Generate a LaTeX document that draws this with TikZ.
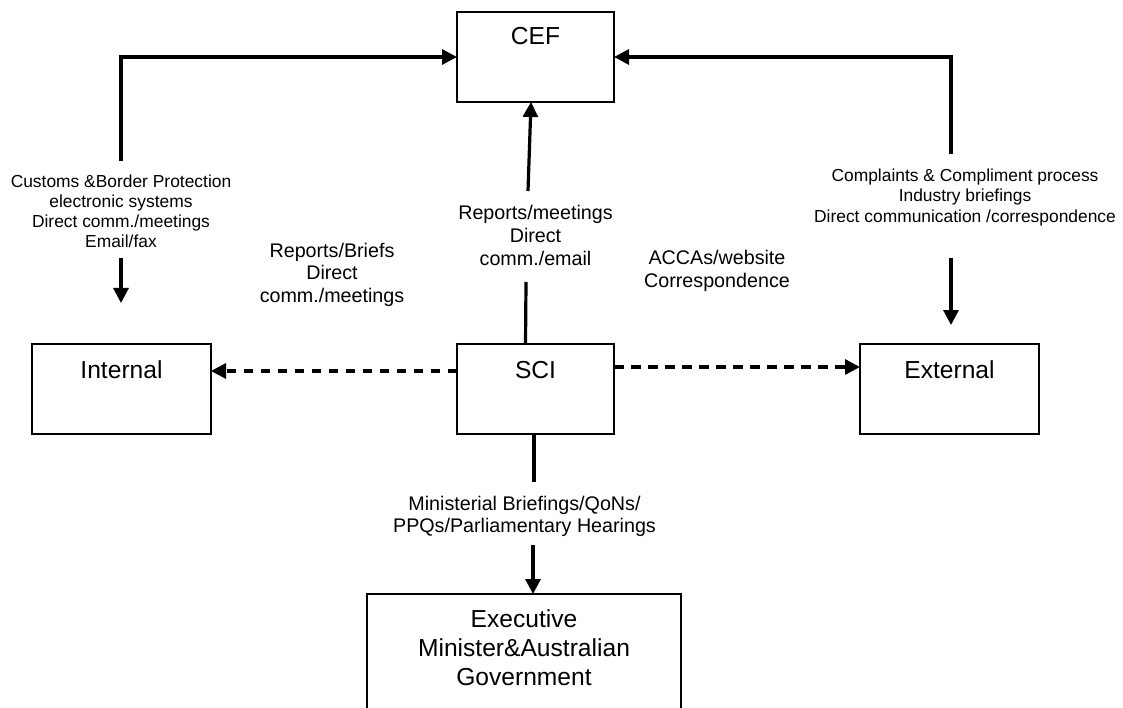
\documentclass[tikz,border=0pt]{standalone}
\usepackage{fontspec}
\setmainfont{Liberation Sans}
\usetikzlibrary{arrows.meta}
\begin{document}
\begin{tikzpicture}[x=1pt,y=-1pt,
  box/.style={draw, line width=1.6pt, inner sep=0pt, outer sep=0pt},
  boxlbl/.style={inner sep=0pt, font=\fontsize{24.6}{29}\selectfont},
  conn/.style={line width=3.2pt, -{Triangle[length=15pt,width=15pt]}},
  plainline/.style={line width=3.2pt},
  dconn/.style={conn, dash pattern=on 9.5pt off 7.5pt},
  smlbl/.style={inner sep=0pt, anchor=north, align=center, font=\fontsize{17.4}{20.2}\selectfont},
  mdlbl/.style={inner sep=0pt, anchor=north, align=center, font=\fontsize{19.7}{22.6}\selectfont},
]
\useasboundingbox (0,0) rectangle (1123,708);
\fill[white] (0,0) rectangle (1123,708);
\clip (0,0) rectangle (1123,708);

% boxes
\node[box, minimum width=157pt, minimum height=90pt,
  label={[boxlbl, anchor=base, yshift=-33pt]north:CEF}] (cef) at (535.5,57) {};
\node[box, minimum width=157pt, minimum height=90pt,
  label={[boxlbl, anchor=base, yshift=-34pt]north:SCI}] (sci) at (535.5,389) {};
\node[box, minimum width=179pt, minimum height=90pt,
  label={[boxlbl, anchor=base, yshift=-34pt]north:Internal}] (internal) at (121.5,389) {};
\node[box, minimum width=179pt, minimum height=90pt,
  label={[boxlbl, anchor=base, yshift=-34pt]north:External}] (external) at (949.5,389) {};
\node[box, minimum width=314pt, minimum height=166pt,
  label={[boxlbl, align=center, anchor=north, yshift=-15pt]north:{Executive\\Minister\&Australian\\Government}}] (exec) at (524,677) {};

% free ends
\coordinate (lbot) at (121,161);
\coordinate (rbot) at (951,154);
\coordinate (ltop) at (121,258);
\coordinate (ltip) at (121,303);
\coordinate (rtop) at (951,258);
\coordinate (rtip) at (951,325);
\coordinate (g1) at (526,282);
\coordinate (g2) at (528,191);
\coordinate (g3) at (534,482);
\coordinate (g4) at (533,545);

% connectors
\draw[conn] (lbot) |- (cef.west);
\draw[conn] (rbot) |- (cef.east);
\draw[conn] (ltop) -- (ltip);
\draw[conn] (rtop) -- (rtip);
\draw[plainline] ([xshift=-10pt]sci.north) -- (g1);
\draw[conn] (g2) -- ([xshift=-4.5pt]cef.south);
\draw[plainline] ([xshift=-1.5pt]sci.south) -- (g3);
\draw[conn] (g4) -- (g4 |- exec.north);
\draw[dconn] ([yshift=18pt]sci.west) -- ([yshift=18pt]internal.east);
\draw[dconn] ([yshift=22pt]sci.east) -- ([yshift=22pt]external.west);

% labels
\node[smlbl] (lcust) at (121,174.3) {Customs \&Border Protection\\electronic systems\\Direct comm./meetings\\Email/fax};
\node[smlbl, font=\fontsize{17.4}{20.6}\selectfont] (lcomp) at (965,168.3) {Complaints \& Compliment process\\Industry briefings\\Direct communication /correspondence};
\node[mdlbl] (lrepb) at (332,242.6) {Reports/Briefs\\Direct\\comm./meetings};
\node[mdlbl, font=\fontsize{19.7}{23}\selectfont] (lrepm) at (535.5,204.6) {Reports/meetings\\Direct\\comm./email};
\node[mdlbl, font=\fontsize{19.7}{23}\selectfont] (lacca) at (717,249.6) {ACCAs/website\\Correspondence};
\node[mdlbl, font=\fontsize{19.7}{22}\selectfont] (lmin) at (524.5,495.6) {Ministerial Briefings/QoNs/\\PPQs/Parliamentary Hearings};
\end{tikzpicture}
\end{document}
